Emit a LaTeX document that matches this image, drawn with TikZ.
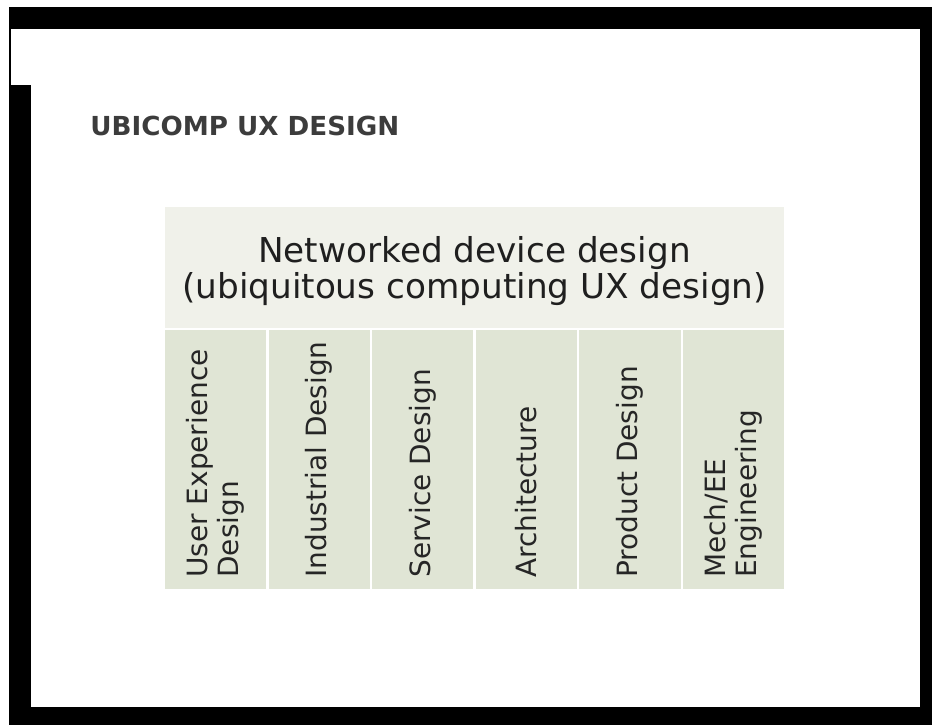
\documentclass[tikz,border=0pt]{standalone}
\usepackage{fontspec}
\setmainfont{DejaVu Sans}
\usepackage{tikz}
\usetikzlibrary{positioning}
\definecolor{topgreen}{RGB}{240,241,234}
\definecolor{colgreen}{RGB}{224,229,213}
\definecolor{titlegrey}{RGB}{60,60,60}

\begin{document}
\begin{tikzpicture}[x=0.02cm,y=-0.02cm,
		cell/.style={fill=colgreen,inner sep=0,minimum width=2.03cm,minimum height=5.18cm},
		celltext/.style={rotate=90,anchor=west,inner sep=0,align=left,text=black!85,font=\fontsize{15.9}{17.6}\selectfont}]
		\useasboundingbox (0,0) rectangle (932,725);
		% slide frame with its dark edge
		\fill[black] (9,7) rectangle (932,725);
		\fill[white] (11,29) rectangle (920,707);
		\fill[black] (9,85) rectangle (31,707);
		\node[anchor=base west,inner sep=0,text=titlegrey,font=\fontsize{14.9}{17}\selectfont\bfseries] (title) at (90,135) {UBICOMP UX DESIGN};
		% top band
		\node[fill=topgreen,inner sep=0,minimum width=12.38cm,minimum height=2.42cm] (net) at (474.5,267.5) {};
		\node[align=center,inner sep=0,text=black!88,font=\fontsize{19.5}{20.4}\selectfont] (nettext) at (474.5,271) {Networked device design\\(ubiquitous computing UX design)};
		% the six columns
		\node[cell] (ux) at (215.75,459.5) {};
		\node[cell] (ind) at (319.25,459.5) {};
		\node[cell] (serv) at (422.75,459.5) {};
		\node[cell] (arch) at (526.25,459.5) {};
		\node[cell] (prod) at (629.75,459.5) {};
		\node[cell] (mech) at (733.25,459.5) {};
		\node[celltext] (uxtext) at (215.75,578) {User Experience\\Design};
		\node[celltext] (indtext) at (319.25,578) {Industrial Design};
		\node[celltext] (servtext) at (422.75,578) {Service Design};
		\node[celltext] (archtext) at (526.25,578) {Architecture};
		\node[celltext] (prodtext) at (629.75,578) {Product Design};
		\node[celltext] (mechtext) at (733.25,578) {Mech/EE\\Engineering};
\end{tikzpicture}
\end{document}
